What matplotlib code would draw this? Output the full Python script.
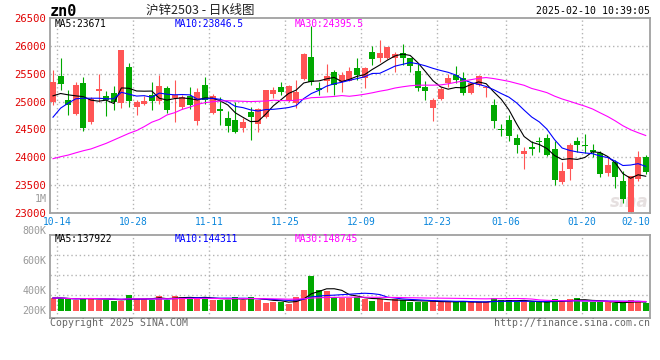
import numpy as np
import pandas as pd
import matplotlib
matplotlib.use('Agg')
import matplotlib.pyplot as plt
import matplotlib.transforms as mtransforms

# daily bars of SHFE zinc 2503, 2024-10-14 .. 2025-02-10 (79 trading days)
opens = [24986, 25460, 25028, 24776, 25328, 24626, 25190, 25100, 25154, 24968,
         25628, 24908, 24950, 25118, 25016, 25250, 25058, 24908, 25100, 24650,
         25298, 24800, 24866, 24710, 24668, 24518, 24818, 24596, 24728, 25142,
         25268, 25010, 24968, 25400, 25808, 25250, 25376, 25538, 25358, 25370,
         25610, 25418, 25898, 25790, 25790, 25778, 25880, 25790, 25550, 25268,
         24890, 25046, 25334, 25478, 25430, 25160, 25298, 25250, 24930, 24500,
         24672, 24343, 24057, 24182, 24296, 24343, 24152, 23548, 23793, 24284,
         24218, 24134, 24074, 23715, 23907, 23566, 23010, 23604, 24010]
highs = [25568, 25790, 25208, 25358, 25448, 25088, 25490, 25190, 25286, 25928,
         25700, 25028, 25100, 25358, 25478, 25280, 25388, 25118, 25268, 25250,
         25448, 25130, 25088, 24830, 24986, 24698, 24896, 24878, 25208, 25268,
         25358, 25300, 25388, 25870, 26348, 25358, 25676, 25568, 25538, 25628,
         25778, 25628, 26006, 26108, 25988, 25898, 26030, 25790, 25670, 25370,
         25070, 25260, 25490, 25640, 25538, 25340, 25480, 25268, 25050, 24595,
         24762, 24421, 24176, 24284, 24373, 24415, 24284, 23913, 24254, 24361,
         24421, 24242, 24116, 23997, 23955, 23745, 23668, 24104, 24050]
lows = [24938, 25208, 24758, 24758, 24470, 24590, 24986, 24746, 24848, 24878,
        24908, 24758, 24938, 24848, 24950, 24788, 24626, 24866, 24866, 24578,
        24950, 24780, 24578, 24446, 24428, 24458, 24308, 24458, 24710, 25058,
        25118, 24990, 24878, 25380, 25298, 25118, 25178, 25118, 25166, 25370,
        25388, 25250, 25658, 25718, 25760, 25526, 25658, 25526, 25190, 25028,
        24650, 25020, 25268, 25328, 25118, 25140, 25280, 25090, 24523, 24391,
        24296, 24074, 23793, 24033, 24086, 24015, 23506, 23524, 23584, 24086,
        24074, 23997, 23638, 23656, 23440, 23177, 22960, 23566, 23700]
closes = [25358, 25316, 24938, 25298, 24530, 25046, 25226, 25028, 24998, 25928,
          25010, 24986, 25010, 25010, 25280, 24848, 25118, 25076, 24938, 25166,
          25028, 25100, 24836, 24566, 24458, 24626, 24716, 24866, 25208, 25208,
          25166, 25280, 25166, 25850, 25358, 25202, 25460, 25298, 25478, 25550,
          25478, 25610, 25760, 25880, 25988, 25856, 25778, 25640, 25238, 25190,
          25028, 25226, 25430, 25388, 25160, 25328, 25460, 25268, 24655, 24490,
          24391, 24212, 24116, 24146, 24280, 24033, 23584, 23757, 24224, 24212,
          24210, 24086, 23697, 23865, 23638, 23249, 23668, 24010, 23734]
volumes = [203000, 203000, 181000, 176000, 203000, 203000, 176000, 176000, 155000, 155000,
           251000, 192000, 187000, 171000, 235000, 176000, 235000, 224000, 197000, 197000,
           219000, 176000, 176000, 176000, 219000, 176000, 219000, 171000, 123000, 139000,
           144000, 107000, 219000, 331000, 555000, 331000, 315000, 224000, 203000, 208000,
           224000, 181000, 160000, 181000, 144000, 187000, 171000, 144000, 144000, 133000,
           165000, 144000, 133000, 133000, 155000, 133000, 133000, 133000, 203000, 165000,
           165000, 133000, 160000, 133000, 133000, 133000, 187000, 155000, 187000, 203000,
           144000, 133000, 133000, 133000, 123000, 123000, 171000, 155000, 123000]

# moving averages before enough bars exist
ma5_head = [25103, 25145, 25121, 25103]
ma10_head = [24720, 24882, 24972, 25050, 25060, 25060, 25060, 25050, 25050]
ma30_head = [23975, 24010, 24040, 24080, 24118, 24150, 24200, 24250, 24310, 24370,
             24430, 24480, 24550, 24630, 24680, 24760, 24800, 24860, 24900, 24950,
             24980, 24997, 25010, 25015, 25010, 25005, 25000, 25005, 25010]

tick_idx = [0, 10, 20, 30, 40, 50, 59, 69, 78]
tick_labels = ['10-14', '10-28', '11-11', '11-25', '12-09', '12-23', '01-06', '01-20', '02-10']
price_ticks = [23000, 23500, 24000, 24500, 25000, 25500, 26000, 26500]
vol_grid = [891000, 571000, 251000]
vol_label_pos = [1280000, 800000, 320000, 0]
vol_labels = ['800K', '600K', '400K', '200K']

UP = '#ff5555'
DOWN = '#00a800'
GRID = '#b4b4b4'
SPINE = '#a0a0a0'
MONO = 'DejaVu Sans Mono'
LW = 0.8

n = len(closes)
x = np.arange(n)
cls = pd.Series(closes, dtype=float)
ma5 = cls.rolling(5).mean().values
ma10 = cls.rolling(10).mean().values
ma30 = cls.rolling(30).mean().values
ma5[:len(ma5_head)] = ma5_head
ma10[:len(ma10_head)] = ma10_head
ma30[:len(ma30_head)] = ma30_head

vol = pd.Series(volumes, dtype=float)
vma5 = vol.rolling(5, min_periods=1).mean().values
vma10 = vol.rolling(10, min_periods=1).mean().values
vma30 = vol.rolling(30, min_periods=1).mean().values

colors = [UP if c >= o else DOWN for o, c in zip(opens, closes)]
grid_x = [i + 0.566 for i in tick_idx]

W, H = 660, 360
fig = plt.figure(figsize=(6.6, 3.6), dpi=100)
fig.patch.set_facecolor('white')
ax = fig.add_axes([50 / W, 1 - 213 / H, 600 / W, 195 / H])
axv = fig.add_axes([50 / W, 1 - 317.7 / H, 600 / W, 82.7 / H])

for a in (ax, axv):
    a.set_xlim(-0.395, 78.55)
    for s in a.spines.values():
        s.set_color(SPINE)
        s.set_linewidth(1.3)
    for gx in grid_x[:-1]:
        a.axvline(gx, color=GRID, lw=1, ls=(0, (1, 2)), zorder=0)
    a.tick_params(length=0)

# price panel
ax.set_ylim(23000, 26500)
for p in price_ticks[1:-1]:
    ax.axhline(p, color=GRID, lw=1, ls=(0, (1, 2)), zorder=0)
ax.set_yticks(price_ticks)
ax.set_yticklabels([str(p) for p in price_ticks], family=MONO, fontsize=7.6, color='#e00000')
ax.tick_params(axis='y', pad=2.5)
ax.set_xticks(grid_x)
ax.set_xticklabels(tick_labels, family=MONO, fontsize=6.9, color='#0a86dc')
ax.tick_params(axis='x', pad=3)
ax.get_xticklabels()[-1].set_ha('right')

ax.vlines(x, lows, highs, colors=colors, lw=LW, zorder=2)
body_lo = [min(o, c) for o, c in zip(opens, closes)]
body_h = [max(abs(c - o), 18) for o, c in zip(opens, closes)]
ax.bar(x, body_h, bottom=body_lo, width=0.79, color=colors, lw=0, zorder=3)

ax.plot(x, ma5, color='black', lw=LW, zorder=4)
ax.plot(x, ma10, color='#0000ff', lw=LW, zorder=4)
ax.plot(x, ma30, color='#ff00ff', lw=LW, zorder=4)

yx = mtransforms.blended_transform_factory(ax.transAxes, ax.transData)
ax.text(-0.006, 23250, '1M', transform=yx, ha='right', va='center',
        family=MONO, fontsize=7.2, color='#999999', clip_on=False)
ax.text(0.998, 0.012, 'sina', transform=ax.transAxes, ha='right', va='bottom',
        fontsize=12, style='italic', weight='bold', color='#e6e0e0', zorder=1)

# volume panel
axv.set_ylim(-112000, 1211000)
for g in vol_grid:
    axv.axhline(g, color=GRID, lw=1, ls=(0, (1, 2)), zorder=0)
axv.set_xticks([])
axv.set_yticks([])
axv.bar(x, volumes, width=0.79, color=colors, lw=0, zorder=2)
axv.plot(x, vma5, color='black', lw=LW, zorder=3)
axv.plot(x, vma10, color='#0000ff', lw=LW, zorder=3)
axv.plot(x, vma30, color='#ff00ff', lw=LW, zorder=3)
vx = mtransforms.blended_transform_factory(axv.transAxes, axv.transData)
for pos, lab in zip(vol_label_pos, vol_labels):
    axv.text(-0.006, pos, lab, transform=vx, ha='right', va='center',
             family=MONO, fontsize=7.2, color='#999999', clip_on=False)

# header / legends / footer
def ftext(px, py, s, **kw):
    fig.text(px / W, 1 - py / H, s, **kw)

ftext(50, 11, 'zn0', ha='left', va='center', family=MONO, fontsize=11, weight='bold')
ftext(200, 10, '沪锌2503 - 日K线图', ha='center', va='center',
      family=['Noto Sans CJK SC', 'DejaVu Sans'], fontsize=9, color='#222222')
ftext(650, 11.5, '2025-02-10 10:39:05', ha='right', va='center', family=MONO, fontsize=7.1)

ftext(55, 24, 'MA5:23671', ha='left', va='center', family=MONO, fontsize=6.9, color='black')
ftext(175, 24, 'MA10:23846.5', ha='left', va='center', family=MONO, fontsize=6.9, color='#0000ff')
ftext(295, 24, 'MA30:24395.5', ha='left', va='center', family=MONO, fontsize=6.9, color='#ff00ff')

ftext(55, 238.5, 'MA5:137922', ha='left', va='center', family=MONO, fontsize=6.9, color='black')
ftext(175, 238.5, 'MA10:144311', ha='left', va='center', family=MONO, fontsize=6.9, color='#0000ff')
ftext(295, 238.5, 'MA30:148745', ha='left', va='center', family=MONO, fontsize=6.9, color='#ff00ff')

ftext(50, 323.5, 'Copyright 2025 SINA.COM', ha='left', va='center', family=MONO,
      fontsize=7.1, color='#666666')
ftext(650, 323.5, 'http://finance.sina.com.cn', ha='right', va='center', family=MONO,
      fontsize=7.1, color='#666666')

fig.savefig('out.png', dpi=100, facecolor='white')
